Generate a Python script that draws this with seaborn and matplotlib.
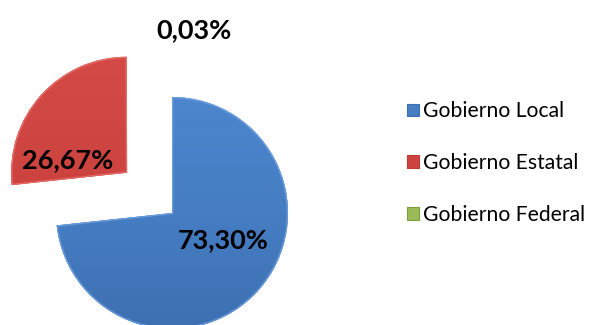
import matplotlib
matplotlib.use("Agg")
import matplotlib.pyplot as plt
import seaborn as sns
import numpy as np
from matplotlib.colors import LinearSegmentedColormap
from matplotlib.patches import Wedge

# Distribución por nivel de gobierno
categorias = ["Gobierno Local", "Gobierno Estatal", "Gobierno Federal"]
porcentajes = [73.30, 26.67, 0.03]
colores = ["#467dc3", "#cd433f", "#9bbb59"]
claros = ["#4d86cd", "#d44a46", "#b0cf6a"]
oscuros = ["#3d70b2", "#c03b37", "#7f9c45"]
biseles = ["#78a9e6", "#ee7a76", "#c6e08a"]

sns.set_theme(style="white")
plt.rcParams["font.family"] = ["Lato", "DejaVu Sans"]

W, H = 596, 325
R = 116.0  # pie radius in pixels
cx, cy = 172.0, 112.0  # pie centre in pixels from bottom-left
xlim = (-cx / R, (W - cx) / R)
ylim = (-cy / R, (H - cy) / R)

fig = plt.figure(figsize=(W / 100, H / 100), dpi=100)
ax = fig.add_axes([0, 0, 1, 1])

wedges, _ = ax.pie(
    porcentajes,
    colors=colores,
    startangle=90,
    counterclock=False,
    explode=[0, 0.52, 0.52],
    radius=1.0,
    wedgeprops=dict(linewidth=0),
)

# gentle vertical shading clipped to each slice, plus a light bevel rim
grad = np.linspace(0, 1, 256).reshape(-1, 1)
for w, c1, c2, cb in zip(wedges[:2], claros, oscuros, biseles):
    cmap = LinearSegmentedColormap.from_list("s", [c1, w.get_facecolor(), c2])
    x0, y0 = w.center
    im = ax.imshow(grad, cmap=cmap, origin="upper", aspect="auto",
                   extent=(x0 - 1, x0 + 1, y0 - 1, y0 + 1),
                   zorder=w.get_zorder() + 0.1, interpolation="bilinear")
    im.set_clip_path(w)
    rim = Wedge((x0, y0), 1.0, w.theta1, w.theta2, facecolor="none",
                edgecolor=cb, linewidth=2.0, alpha=0.7,
                zorder=w.get_zorder() + 0.2)
    ax.add_patch(rim)
    rim.set_clip_path(w)

ax.set_xlim(*xlim)
ax.set_ylim(*ylim)
ax.set_aspect("equal")
ax.axis("off")

def etiqueta(v):
    return f"{v:.2f}".replace(".", ",") + "%"

# label placement: (angle in degrees, distance in radii) from each slice's apex
posiciones = [(-28, 0.50), (168, 0.52), (83, 1.59)]
for w, v, (ang, d) in zip(wedges, porcentajes, posiciones):
    x0, y0 = (0.0, 0.0) if w is wedges[2] else w.center
    a = np.deg2rad(ang)
    x, y = x0 + d * np.cos(a), y0 + d * np.sin(a)
    ax.text(x, y, etiqueta(v), ha="center", va="center",
            fontsize=19.5, fontweight="bold", color="black", zorder=10)

leg = ax.legend(
    wedges, categorias,
    loc="center left",
    bbox_to_anchor=(388 / W, (H - 163) / H),
    frameon=False,
    handlelength=0.55, handleheight=0.55, handletextpad=0.2,
    labelspacing=1.5, fontsize=15.2,
)
for t in leg.get_texts():
    t.set_color("black")
for h, e in zip(leg.legend_handles, oscuros):
    h.set_edgecolor(e)
    h.set_linewidth(0.8)

# the 0.03 % slice is too thin to show as a shape
wedges[2].remove()

fig.savefig("out.png", dpi=100)
